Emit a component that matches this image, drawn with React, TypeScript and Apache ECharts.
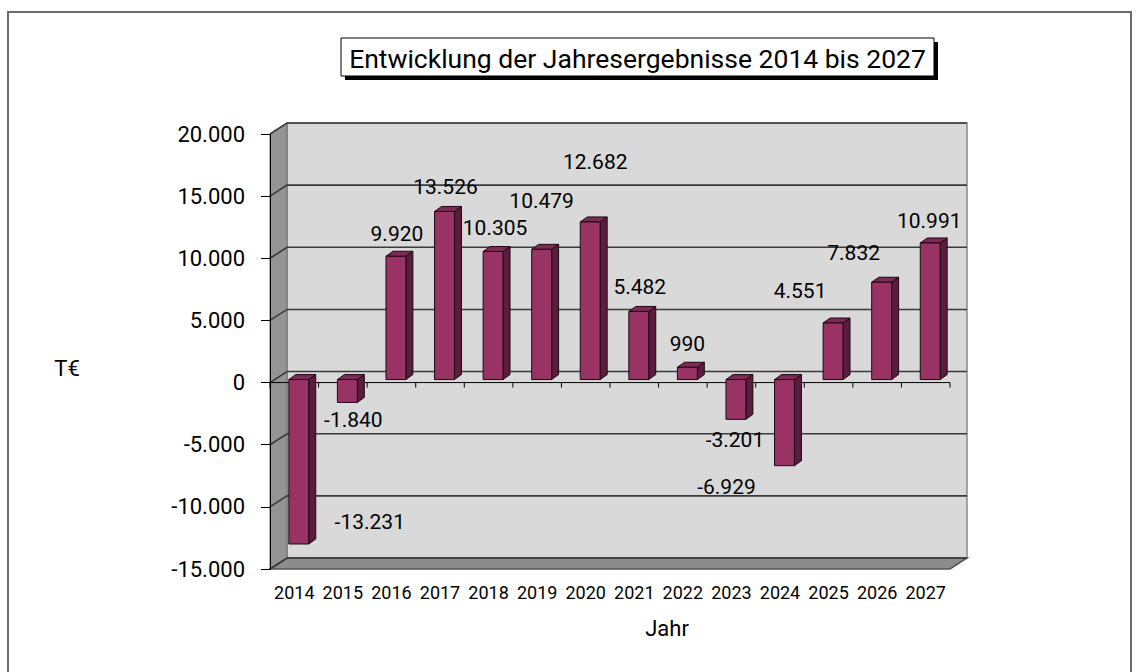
import React, { useEffect, useRef } from "react";
import * as echarts from "echarts";

const years = ["2014", "2015", "2016", "2017", "2018", "2019", "2020", "2021", "2022", "2023", "2024", "2025", "2026", "2027"];
const results = [-13231, -1840, 9920, 13526, 10305, 10479, 12682, 5482, 990, -3201, -6929, 4551, 7832, 10991];
const yMin = -15000;
const yMax = 20000;
const yStep = 5000;
const yTicks = [-15000, -10000, -5000, 0, 5000, 10000, 15000, 20000];
const titleText = "Entwicklung der Jahresergebnisse 2014 bis 2027";
const xName = "Jahr";
const yName = "T€";

// label nudges (dx, dy) relative to default label spot, as in the reference
const labelNudges: number[][] = [
  [71, -43], [6, -3], [1, 1], [1, -1], [2, 0], [0, -25], [5, -37],
  [1, -1], [0, 0], [-1, 0], [-58, 0], [-33, -9], [-28, -6], [-1, 1],
];

const FONT = "Roboto";
const WX = 17, WY = -11; // wall depth
const SX = 4.5, SY = -3; // bar placement depth
const BDX = 7, BDY = -5; // bar depth
const BAR_RATIO = 0.41;

function fmt(v: number): string {
  const neg = v < 0;
  const s = String(Math.abs(Math.round(v)));
  const parts: string[] = [];
  for (let i = s.length; i > 0; i -= 3) parts.unshift(s.slice(Math.max(0, i - 3), i));
  return (neg ? "-" : "") + parts.join(".");
}

export default function App() {
  const ref = useRef<HTMLDivElement>(null);
  useEffect(() => {
    if (!ref.current) return;
    const chart = echarts.init(ref.current, null, { renderer: "svg" });
    const option: any = {
      animation: false,
      backgroundColor: "#ffffff",
      textStyle: { fontFamily: FONT },
      grid: { left: 270, top: 134, right: 190, bottom: 103, containLabel: false },
      xAxis: {
        type: "category",
        data: years,
        axisLine: { show: false },
        axisTick: { show: false },
        axisLabel: { fontSize: 18, color: "#000", margin: 14, fontFamily: FONT, interval: 0 },
        splitLine: { show: false },
      },
      yAxis: {
        type: "value",
        min: yMin,
        max: yMax,
        interval: yStep,
        z: 10,
        axisLine: { show: true, lineStyle: { color: "#000", width: 1 } },
        axisTick: { show: true, length: 9, lineStyle: { color: "#000" } },
        axisLabel: { fontSize: 22, color: "#000", margin: 25, fontFamily: FONT, formatter: (v: number) => fmt(v) },
        splitLine: { show: false },
      },
      graphic: [
        {
          type: "rect",
          shape: { x: 8, y: 12, width: 1123, height: 700 },
          style: { fill: "none", stroke: "#6b6b6b", lineWidth: 2 },
          z: 0,
        },
        {
          type: "rect",
          shape: { x: 345, y: 42, width: 593, height: 38 },
          style: { fill: "#000" },
          z: 20,
        },
        {
          type: "rect",
          shape: { x: 341, y: 38, width: 593, height: 38 },
          style: { fill: "#fff", stroke: "#000", lineWidth: 1 },
          z: 21,
        },
        {
          type: "text",
          x: 637.5,
          y: 58,
          style: { text: titleText, fontSize: 26.5, fontFamily: FONT, fill: "#000", align: "center", verticalAlign: "middle" },
          z: 22,
        },
        {
          type: "text",
          x: 67,
          y: 368,
          style: { text: yName, fontSize: 22, fontFamily: FONT, fill: "#000", align: "center", verticalAlign: "middle" },
          z: 22,
        },
        {
          type: "text",
          x: 667,
          y: 628,
          style: { text: xName, fontSize: 22, fontFamily: FONT, fill: "#000", align: "center", verticalAlign: "middle" },
          z: 22,
        },
      ],
      series: [
        {
          type: "custom",
          name: "walls",
          z: 1,
          silent: true,
          data: [[0, 0]],
          renderItem: (params: any, api: any) => {
            const cs = params.coordSys;
            const x0 = cs.x, x1 = cs.x + cs.width, y0 = cs.y, y1 = cs.y + cs.height;
            const children: any[] = [];
            children.push({
              type: "polygon",
              shape: { points: [[x0 + WX, y0 + WY], [x1 + WX, y0 + WY], [x1 + WX, y1 + WY], [x0 + WX, y1 + WY]] },
              style: { fill: "#d9d9d9", stroke: "#8a8a8a", lineWidth: 1.5 },
            });
            children.push({
              type: "polygon",
              shape: { points: [[x0, y0], [x0 + WX, y0 + WY], [x0 + WX, y1 + WY], [x0, y1]] },
              style: { fill: "#949494", stroke: "#6e6e6e", lineWidth: 1 },
            });
            children.push({
              type: "polygon",
              shape: { points: [[x0, y1], [x1, y1], [x1 + WX, y1 + WY], [x0 + WX, y1 + WY]] },
              style: { fill: "#8c8c8c", stroke: "#555", lineWidth: 1.5 },
            });
            yTicks.forEach((t) => {
              const y = api.coord([0, t])[1];
              children.push({
                type: "polyline",
                shape: { points: [[x0, y], [x0 + WX, y + WY], [x1 + WX, y + WY]] },
                style: { fill: "none", stroke: "#3a3a3a", lineWidth: 1.6 },
              });
            });
            const yz = api.coord([0, 0])[1];
            children.push({
              type: "line",
              shape: { x1: x0, y1: yz, x2: x1, y2: yz },
              style: { stroke: "#000", lineWidth: 1 },
            });
            const n = years.length;
            for (let k = 0; k <= n; k++) {
              const xx = x0 + (cs.width * k) / n;
              children.push({
                type: "line",
                shape: { x1: xx, y1: yz, x2: xx, y2: yz + 5 },
                style: { stroke: "#000", lineWidth: 1 },
              });
            }
            return { type: "group", children };
          },
        },
        {
          type: "custom",
          name: "Jahresergebnis",
          z: 3,
          data: results.map((v, i) => [i, v]),
          encode: { x: 0, y: 1 },
          renderItem: (params: any, api: any) => {
            const i = api.value(0);
            const v = api.value(1);
            const pv = api.coord([i, v]);
            const p0 = api.coord([i, 0]);
            const bw = api.size([1, 0])[0] * BAR_RATIO;
            const left = pv[0] - bw / 2 + SX;
            const right = left + bw;
            const top = Math.min(pv[1], p0[1]) + SY;
            const bottom = Math.max(pv[1], p0[1]) + SY;
            const nudge = labelNudges[i] || [0, 0];
            const lx = (left + right) / 2 + nudge[0];
            const ly = (v >= 0 ? top - 23 : bottom + 21) + nudge[1];
            return {
              type: "group",
              children: [
                {
                  type: "polygon",
                  shape: { points: [[right, top], [right + BDX, top + BDY], [right + BDX, bottom + BDY], [right, bottom]] },
                  style: { fill: "#5c1c3d", stroke: "#1a0a12", lineWidth: 1 },
                },
                {
                  type: "polygon",
                  shape: { points: [[left, top], [left + BDX, top + BDY], [right + BDX, top + BDY], [right, top]] },
                  style: { fill: "#7d2a56", stroke: "#1a0a12", lineWidth: 1 },
                },
                {
                  type: "rect",
                  shape: { x: left, y: top, width: bw, height: bottom - top },
                  style: { fill: "#993366", stroke: "#1a0a12", lineWidth: 1 },
                },
                {
                  type: "text",
                  x: lx,
                  y: ly,
                  style: { text: fmt(v), fontSize: 21, fontFamily: FONT, fill: "#000", align: "center", verticalAlign: "middle" },
                },
              ],
            };
          },
        },
      ],
    };
    chart.setOption(option);
    return () => chart.dispose();
  }, []);
  return <div ref={ref} style={{ position: "fixed", left: 0, top: 0, width: 1140, height: 672 }} />;
}
